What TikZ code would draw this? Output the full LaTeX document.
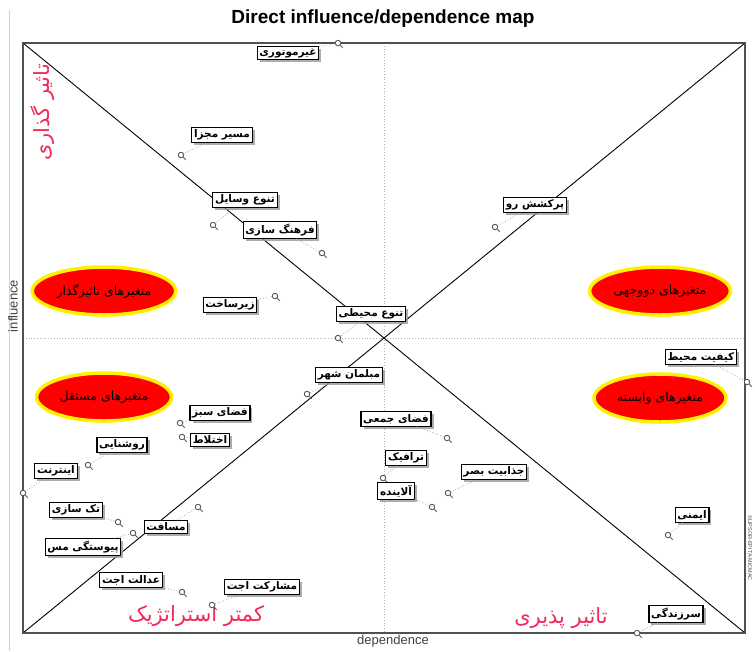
\documentclass[tikz,border=0pt]{standalone}
\usepackage{fontspec}
\setmainfont{Liberation Sans}
\newfontfamily\arabicfont[Script=Arabic]{DejaVu Sans}
\TeXXeTstate=1
\usetikzlibrary{shapes.geometric,shadows}
\definecolor{hand}{HTML}{F2295A}
\definecolor{frameclr}{HTML}{505050}
\newcommand{\ar}[1]{{\arabicfont\beginR #1\endR}}
\newcommand{\ptm}[2]{\node[ptmark] (#1) at (#2) {};\draw[ptmark tail] (#1.-45) -- ++(2.4,2.4);}
\begin{document}
\begin{tikzpicture}[x=1pt,y=-1pt,
  lbl/.style={draw=black, fill=white, line width=1.1pt, inner xsep=2.2pt, inner ysep=2.2pt,
    font=\arabicfont\bfseries\fontsize{10.5}{11}\selectfont,
    drop shadow={shadow xshift=2.5pt,shadow yshift=-2.5pt,fill=gray!80,opacity=0.8}},
  ptmark/.style={circle, draw=gray!70!black, line width=0.9pt, fill=white, inner sep=0pt, minimum size=5.5pt},
  ptmark tail/.style={draw=gray!70!black, line width=1pt},
  conn/.style={draw=gray!70, dotted, line width=0.8pt},
  blob/.style={ellipse, fill=red, draw=yellow, line width=3.5pt, minimum width=132pt, minimum height=48pt,
    font=\arabicfont\fontsize{12.5}{14}\selectfont},
  hand/.style={text=hand, font=\arabicfont\fontsize{21}{24}\selectfont},
  axlbl/.style={text=black!75, font=\fontsize{13}{14}\selectfont}
]
\useasboundingbox (0,0) rectangle (755,651);
% faint outer border
\draw[gray!35, line width=0.8pt] (9,10) -- (9,651);
% title
\node (title) at (383,19) {\bfseries\fontsize{19}{22}\selectfont Direct influence/dependence map};
% frame corners
\coordinate (tl) at (23,43);
\coordinate (tr) at (745,43);
\coordinate (bl) at (23,633);
\coordinate (br) at (745,633);
\coordinate (mt) at (384,43);
\coordinate (mb) at (384,633);
\coordinate (ml) at (23,338);
\coordinate (mr) at (745,338);
% dotted axes
\draw[gray!60, dotted, line width=0.8pt] (mt) -- (mb);
\draw[gray!60, dotted, line width=0.8pt] (ml) -- (mr);
% diagonals
\draw[black, line width=0.9pt] (tl) -- (br);
\draw[black, line width=0.9pt] (bl) -- (tr);
% frame
\draw[frameclr, line width=1.5pt] (tl) rectangle (br);
% axis labels
\node[axlbl, rotate=90] (infl) at (13,306) {influence};
\node[axlbl] (dep) at (393,641) {dependence};
\node[rotate=-90, text=black!70, font=\fontsize{5.5}{6}\selectfont] (copy) at (750,548) {©LIPSOR-EPITA-MICMAC};
% handwritten labels
\node[hand, rotate=90] (h1) at (43,112) {\ar{تاثیر گذاری}};
\node[hand] (h2) at (196,616) {\ar{کمتر استراتژیک}};
\node[hand] (h3) at (561,618) {\ar{تاثیر پذیری}};
% ellipses
\node[blob] (e1) at (104,291) {\ar{متغیرهای تاثیرگذار}};
\node[blob] (e2) at (660,291) {\ar{متغیرهای دووجهی}};
\node[blob] (e3) at (104,397) {\ar{متغیرهای مستقل}};
\node[blob] (e4) at (660,398) {\ar{متغیرهای وابسته}};
% points
\ptm{p1}{338,43}
\ptm{p2}{181,155}
\ptm{p3}{213,225}
\ptm{p4}{322,253}
\ptm{p5}{275,296}
\ptm{p6}{338,338}
\ptm{p7}{307,394}
\ptm{p8}{180,423}
\ptm{p9}{182,437}
\ptm{p10}{88,465}
\ptm{p11}{23,493}
\ptm{p12}{118,522}
\ptm{p13}{198,507}
\ptm{p14}{133,533}
\ptm{p15}{182,592}
\ptm{p16}{212,605}
\ptm{p17}{495,227}
\ptm{p18}{747,382}
\ptm{p19}{447,438}
\ptm{p20}{383,478}
\ptm{p21}{432,507}
\ptm{p22}{448,493}
\ptm{p23}{668,535}
\ptm{p24}{637,633}
% labels
\node[lbl] (b1) at (288,53) {\ar{غیرموتوری}};
\node[lbl] (b2) at (222,135) {\ar{مسیر مجزا}};
\node[lbl] (b3) at (245,200) {\ar{تنوع وسایل}};
\node[lbl] (b4) at (280,230) {\ar{فرهنگ سازی}};
\node[lbl] (b5) at (230,305) {\ar{زیرساخت}};
\node[lbl] (b6) at (371,314) {\ar{تنوع محیطی}};
\node[lbl] (b7) at (349,375) {\ar{مبلمان شهر}};
\node[lbl] (b8) at (220,413) {\ar{فضای سبز}};
\node[lbl] (b9) at (210,440) {\ar{اختلاط}};
\node[lbl] (b10) at (122,445) {\ar{روشنایی}};
\node[lbl] (b11) at (56,471) {\ar{اینترنت}};
\node[lbl] (b12) at (76,510) {\ar{تک سازی}};
\node[lbl] (b13) at (166,527) {\ar{مسافت}};
\node[lbl] (b14) at (83,547) {\ar{پیوستگی مس}};
\node[lbl] (b15) at (131,580) {\ar{عدالت اجت}};
\node[lbl] (b16) at (262,587) {\ar{مشارکت اجت}};
\node[lbl] (b17) at (535,205) {\ar{پرکشش رو}};
\node[lbl] (b18) at (701,357) {\ar{کیفیت محیط}};
\node[lbl] (b19) at (396,419) {\ar{فضای جمعی}};
\node[lbl] (b20) at (406,458) {\ar{ترافیک}};
\node[lbl] (b21) at (396,491) {\ar{آلاینده}};
\node[lbl] (b22) at (494,472) {\ar{جذابیت بصر}};
\node[lbl] (b23) at (692,515) {\ar{ایمنی}};
\node[lbl] (b24) at (676,614) {\ar{سرزندگی}};
% connectors
\foreach \i in {1,...,24} { \draw[conn] (b\i) -- (p\i); }
\end{tikzpicture}
\end{document}
